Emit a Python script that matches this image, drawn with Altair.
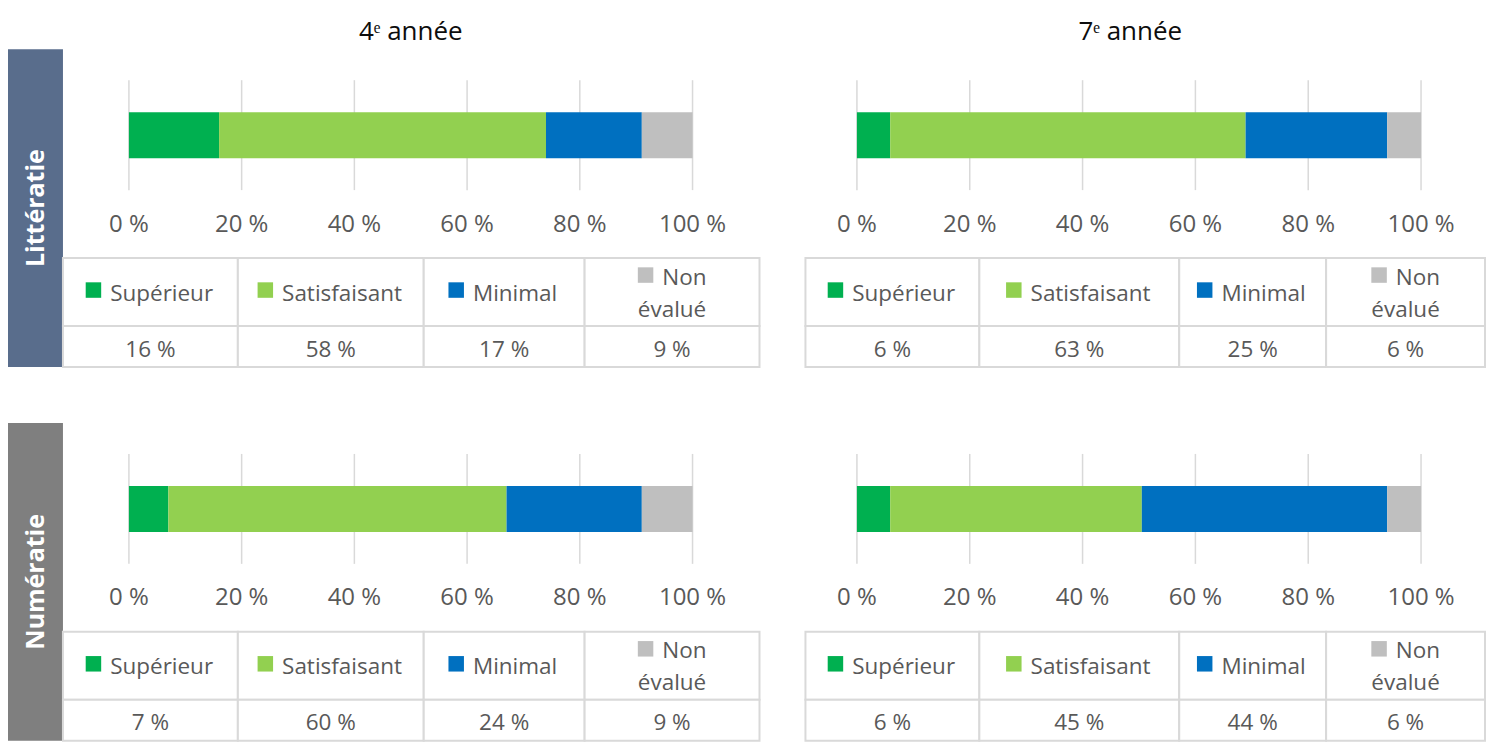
import altair as alt
import pandas as pd

# ---------------- data ----------------
ROWS = ["Littératie", "Numératie"]
YEARS = ["4ᵉ année", "7ᵉ année"]
CATEGORIES = ["Supérieur", "Satisfaisant", "Minimal", "Non évalué"]
LIT_4E = [16, 58, 17, 9]
LIT_7E = [5.9, 63.0, 25.1, 6.0]
NUM_4E = [7, 60, 24, 9]
NUM_7E = [5.9, 44.6, 43.5, 6.0]
TICKS = [0, 20, 40, 60, 80, 100]
TICK_LABELS = ["0 %", "20 %", "40 %", "60 %", "80 %", "100 %"]

VALUES = {
    (ROWS[0], YEARS[0]): LIT_4E,
    (ROWS[0], YEARS[1]): LIT_7E,
    (ROWS[1], YEARS[0]): NUM_4E,
    (ROWS[1], YEARS[1]): NUM_7E,
}

# ---------------- styles / layout ----------------
CAT_COLORS = ["#00B050", "#92D050", "#0070C0", "#BFBFBF"]
BAND_COLORS = ["#596D8C", "#7F7F7F"]
FONT = "Open Sans"
TEXT = "#595959"
LINE = "#D9D9D9"

W, H = 1478, 733
BAND_X = (0, 55)
ROW_TOP = [41, 415]
BAND_H = 318
BAR_C, BAR_H, GRID_H = 86, 46, 110
TICK_C = 175.5
HEAD_C, HEAD_H = 243, 68
VAL_C, VAL_H = 297.5, 41
SW_C1, LAB_C1 = 241, 244.5          # single-line header
SW_C2, LAB_C2A, LAB_C2B = 226, 228.5, 260.5   # two-line header
VAL_TEXT_C = 300.5
SW_SIZE, SW_GAP = 15.5, 9
LABEL_W = {"Supérieur": 105, "Satisfaisant": 122, "Minimal": 87, "Non": 44}
TITLE_X = [411, 1123]
TITLE_Y = 23.5
PANELS = [
    dict(year=YEARS[0], plot=(121, 685), left=55, cols=[175, 186, 161, 175]),
    dict(year=YEARS[1], plot=(849.5, 1414), left=798, cols=[174, 200, 147, 159]),
]


def Y(off):
    return alt.Y("row:N", axis=None,
                 scale=alt.Scale(type="point", domain=ROWS, padding=0,
                                 range=[ROW_TOP[0] + off, ROW_TOP[1] + off]))


cat_scale = alt.Scale(domain=CATEGORIES, range=CAT_COLORS)
layers = []

# side bands
band_df = pd.DataFrame({"row": ROWS})
layers.append(alt.Chart(band_df).mark_bar(size=BAND_H).encode(
    x=alt.value(BAND_X[0]), x2=alt.value(BAND_X[1]), y=Y(BAND_H / 2),
    color=alt.Color("row:N", scale=alt.Scale(domain=ROWS, range=BAND_COLORS), legend=None)))
layers.append(alt.Chart(band_df).mark_text(
    angle=270, font=FONT, fontSize=25, fontWeight="bold", color="white", baseline="middle"
).encode(x=alt.value((BAND_X[0] + BAND_X[1]) / 2 + 1), y=Y(BAND_H / 2), text="row:N"))

# column titles
title_df = pd.DataFrame({"year": YEARS})
layers.append(alt.Chart(title_df).mark_text(
    font=FONT, fontSize=26, color="#0D0D0D", baseline="middle"
).encode(
    x=alt.X("year:N", axis=None,
            scale=alt.Scale(type="point", domain=YEARS, range=[TITLE_X[0] - 8, TITLE_X[1]], padding=0)),
    y=alt.value(TITLE_Y), text="year:N"))

for p in PANELS:
    xs = alt.Scale(domain=[0, 100], range=list(p["plot"]), nice=False, zero=False)
    total = sum(p["cols"])
    ts = alt.Scale(domain=[0, total], range=[p["left"], p["left"] + total], nice=False, zero=False)

    grid_df = pd.DataFrame([{"row": r, "tick": t, "label": l}
                            for r in ROWS for t, l in zip(TICKS, TICK_LABELS)])
    bar_df = pd.DataFrame([{"row": r, "cat": c, "idx": i, "value": v}
                           for r in ROWS
                           for i, (c, v) in enumerate(zip(CATEGORIES, VALUES[(r, p["year"])]))])

    cells = []
    x = 0
    for i, (c, w) in enumerate(zip(CATEGORIES, p["cols"])):
        words = c.split(" ")
        line1 = words[0]
        line2 = " ".join(words[1:])
        center = x + w / 2
        block = SW_SIZE + SW_GAP + LABEL_W[line1]
        bl = center - block / 2
        for r in ROWS:
            cells.append({"row": r, "cat": c, "x0": x, "x1": x + w, "xc": center,
                          "sx": bl + SW_SIZE / 2, "tx": bl + SW_SIZE + SW_GAP,
                          "line1": line1, "line2": line2, "two": bool(line2),
                          "val": f"{round(VALUES[(r, p['year'])][i])} %"})
        x += w
    cell_df = pd.DataFrame(cells)
    one_df = cell_df[~cell_df["two"]]
    two_df = cell_df[cell_df["two"]]

    # gridlines
    layers.append(alt.Chart(grid_df).mark_tick(
        size=GRID_H, thickness=1.5, color=LINE, opacity=1
    ).encode(x=alt.X("tick:Q", scale=xs, axis=None), y=Y(BAR_C)))
    # stacked bars
    layers.append(alt.Chart(bar_df).mark_bar(size=BAR_H).encode(
        x=alt.X("value:Q", stack="zero", scale=xs, axis=None),
        y=Y(BAR_C),
        color=alt.Color("cat:N", scale=cat_scale, legend=None),
        order=alt.Order("idx:Q")))
    # tick labels
    layers.append(alt.Chart(grid_df).mark_text(
        font=FONT, fontSize=24, color=TEXT, baseline="middle"
    ).encode(x=alt.X("tick:Q", scale=xs, axis=None), y=Y(TICK_C), text="label:N"))
    # table cells
    layers.append(alt.Chart(cell_df).mark_bar(
        size=HEAD_H, fill="white", stroke=LINE, strokeWidth=2
    ).encode(x=alt.X("x0:Q", scale=ts, axis=None), x2="x1:Q", y=Y(HEAD_C)))
    layers.append(alt.Chart(cell_df).mark_bar(
        size=VAL_H, fill="white", stroke=LINE, strokeWidth=2
    ).encode(x=alt.X("x0:Q", scale=ts, axis=None), x2="x1:Q", y=Y(VAL_C)))
    # swatches
    layers.append(alt.Chart(one_df).mark_square(size=SW_SIZE ** 2, opacity=1).encode(
        x=alt.X("sx:Q", scale=ts, axis=None), y=Y(SW_C1),
        color=alt.Color("cat:N", scale=cat_scale, legend=None)))
    layers.append(alt.Chart(two_df).mark_square(size=SW_SIZE ** 2, opacity=1).encode(
        x=alt.X("sx:Q", scale=ts, axis=None), y=Y(SW_C2),
        color=alt.Color("cat:N", scale=cat_scale, legend=None)))
    # header labels
    layers.append(alt.Chart(one_df).mark_text(
        font=FONT, fontSize=22.5, color=TEXT, align="left", baseline="middle"
    ).encode(x=alt.X("tx:Q", scale=ts, axis=None), y=Y(LAB_C1), text="line1:N"))
    layers.append(alt.Chart(two_df).mark_text(
        font=FONT, fontSize=22.5, color=TEXT, align="left", baseline="middle"
    ).encode(x=alt.X("tx:Q", scale=ts, axis=None), y=Y(LAB_C2A), text="line1:N"))
    layers.append(alt.Chart(two_df).mark_text(
        font=FONT, fontSize=22.5, color=TEXT, align="center", baseline="middle"
    ).encode(x=alt.X("xc:Q", scale=ts, axis=None), y=Y(LAB_C2B), text="line2:N"))
    # values
    layers.append(alt.Chart(cell_df).mark_text(
        font=FONT, fontSize=22.5, color=TEXT, align="center", baseline="middle"
    ).encode(x=alt.X("xc:Q", scale=ts, axis=None), y=Y(VAL_TEXT_C), text="val:N"))

chart = alt.layer(*layers).resolve_scale(
    x="independent", y="independent", color="independent"
).properties(width=W, height=H, padding=0).configure_view(stroke=None)

chart.save("out.html", embed_options={"renderer": "svg", "actions": False})
